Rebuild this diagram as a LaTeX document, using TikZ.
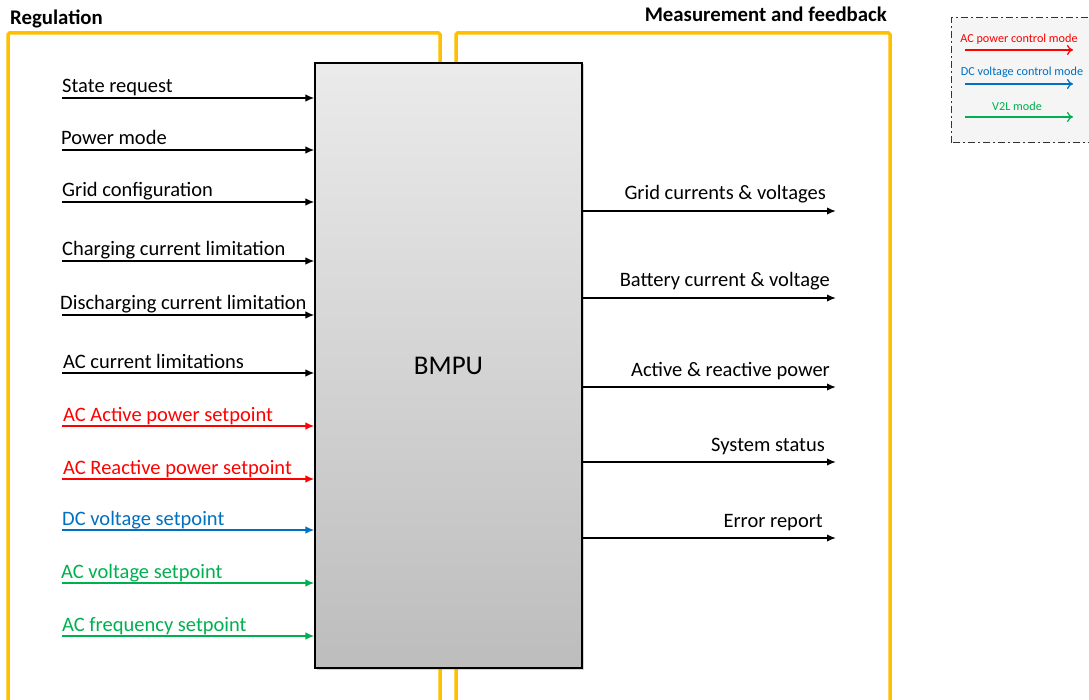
\documentclass[tikz,border=0pt]{standalone}
\usepackage{fontspec}
\setmainfont{Carlito}
\usetikzlibrary{arrows.meta,shadows}
\definecolor{ybox}{HTML}{FFC000}
\definecolor{cred}{HTML}{FF0000}
\definecolor{cblue}{HTML}{0070C0}
\definecolor{cgreen}{HTML}{00B050}
\tikzset{
  panel/.style={draw=ybox, line width=3.5pt, rounded corners=1.5pt},
  sig/.style={line width=1.7pt, -{Latex[length=9pt,width=7.5pt]}},
  lbl/.style={anchor=base west, inner sep=0pt, font=\fontsize{20.5}{22}\selectfont},
  rlbl/.style={anchor=base east, inner sep=0pt, font=\fontsize{20.5}{22}\selectfont},
  ttl/.style={inner sep=0pt, font=\fontsize{20.8}{22}\selectfont\bfseries},
  leg/.style={inner sep=0pt, font=\fontsize{12.2}{13}\selectfont},
  legarr/.style={line width=1.2pt, -{To[length=6pt,width=10pt]}},
}
\begin{document}
\begin{tikzpicture}[x=1pt,y=-1pt]
\useasboundingbox (0,0) rectangle (1089,700);
% panels
\draw[panel] (8,700) |- (440,33) -- (440,700);
\draw[panel] (456,700) |- (890,33) -- (890,700);
\node[ttl, anchor=base west] (treg) at (10,25) {Regulation};
\node[ttl, anchor=base east] (tmeas) at (887,22) {Measurement and feedback};
% BMPU
\node[draw=black, line width=1.2pt, minimum width=267pt, minimum height=605pt,
  top color=black!8, bottom color=black!26, drop shadow={opacity=0.35,shadow xshift=1.5pt,shadow yshift=-1.5pt},
  font=\fontsize{27}{30}\selectfont] (bmpu) at (448.5,365.5) {BMPU};
% inputs
\foreach \y/\t/\c/\n/\x in {
  98/State request/black/a/62,
  150/Power mode/black/b/61,
  202/Grid configuration/black/c/62,
  261/Charging current limitation/black/d/62,
  315/Discharging current limitation/black/e/60,
  373/AC current limitations/black/f/63,
  426/AC Active power setpoint/cred/g/63,
  479/AC Reactive power setpoint/cred/h/63,
  530/DC voltage setpoint/cblue/i/62,
  583/AC voltage setpoint/cgreen/j/61,
  636/AC frequency setpoint/cgreen/k/62} {
  \coordinate (in\n) at (62,\y);
  \draw[sig, draw=\c] (in\n) -- (in\n -| bmpu.west);
  \node[lbl, text=\c] (lin\n) at (\x,\y-5) {\t};
}
% outputs
\foreach \y/\t/\n/\x in {
  211/Grid currents \& voltages/a/826,
  298/Battery current \& voltage/b/830,
  387/Active \& reactive power/c/830,
  462/System status/d/825,
  538/Error report/e/823} {
  \coordinate (out\n) at (836,\y);
  \draw[sig] (out\n -| bmpu.east) -- (out\n);
  \node[rlbl] (lout\n) at (\x,\y-11) {\t};
}
% legend
\fill[black!4] (951,18) rectangle (1089,143);
\draw[black!80, line width=1pt, dash pattern=on 7pt off 3pt on 2pt off 3pt] (951,143) -- (951,18) -- (1095,18) (1095,143) -- (951,143);
\coordinate (lgA) at (965,50);
\coordinate (lgAe) at (1073,50);
\coordinate (lgB) at (965,84);
\coordinate (lgBe) at (1073,84);
\coordinate (lgC) at (965,117);
\coordinate (lgCe) at (1073,117);
\draw[legarr, draw=cred] (lgA) -- (lgAe);
\draw[legarr, draw=cblue] (lgB) -- (lgBe);
\draw[legarr, draw=cgreen] (lgC) -- (lgCe);
\node[leg, text=cred] (legA) at (1019,39) {AC power control mode};
\node[leg, text=cblue] (legB) at (1022,72) {DC voltage control mode};
\node[leg, text=cgreen] (legC) at (1017,106) {V2L mode};
\end{tikzpicture}
\end{document}
